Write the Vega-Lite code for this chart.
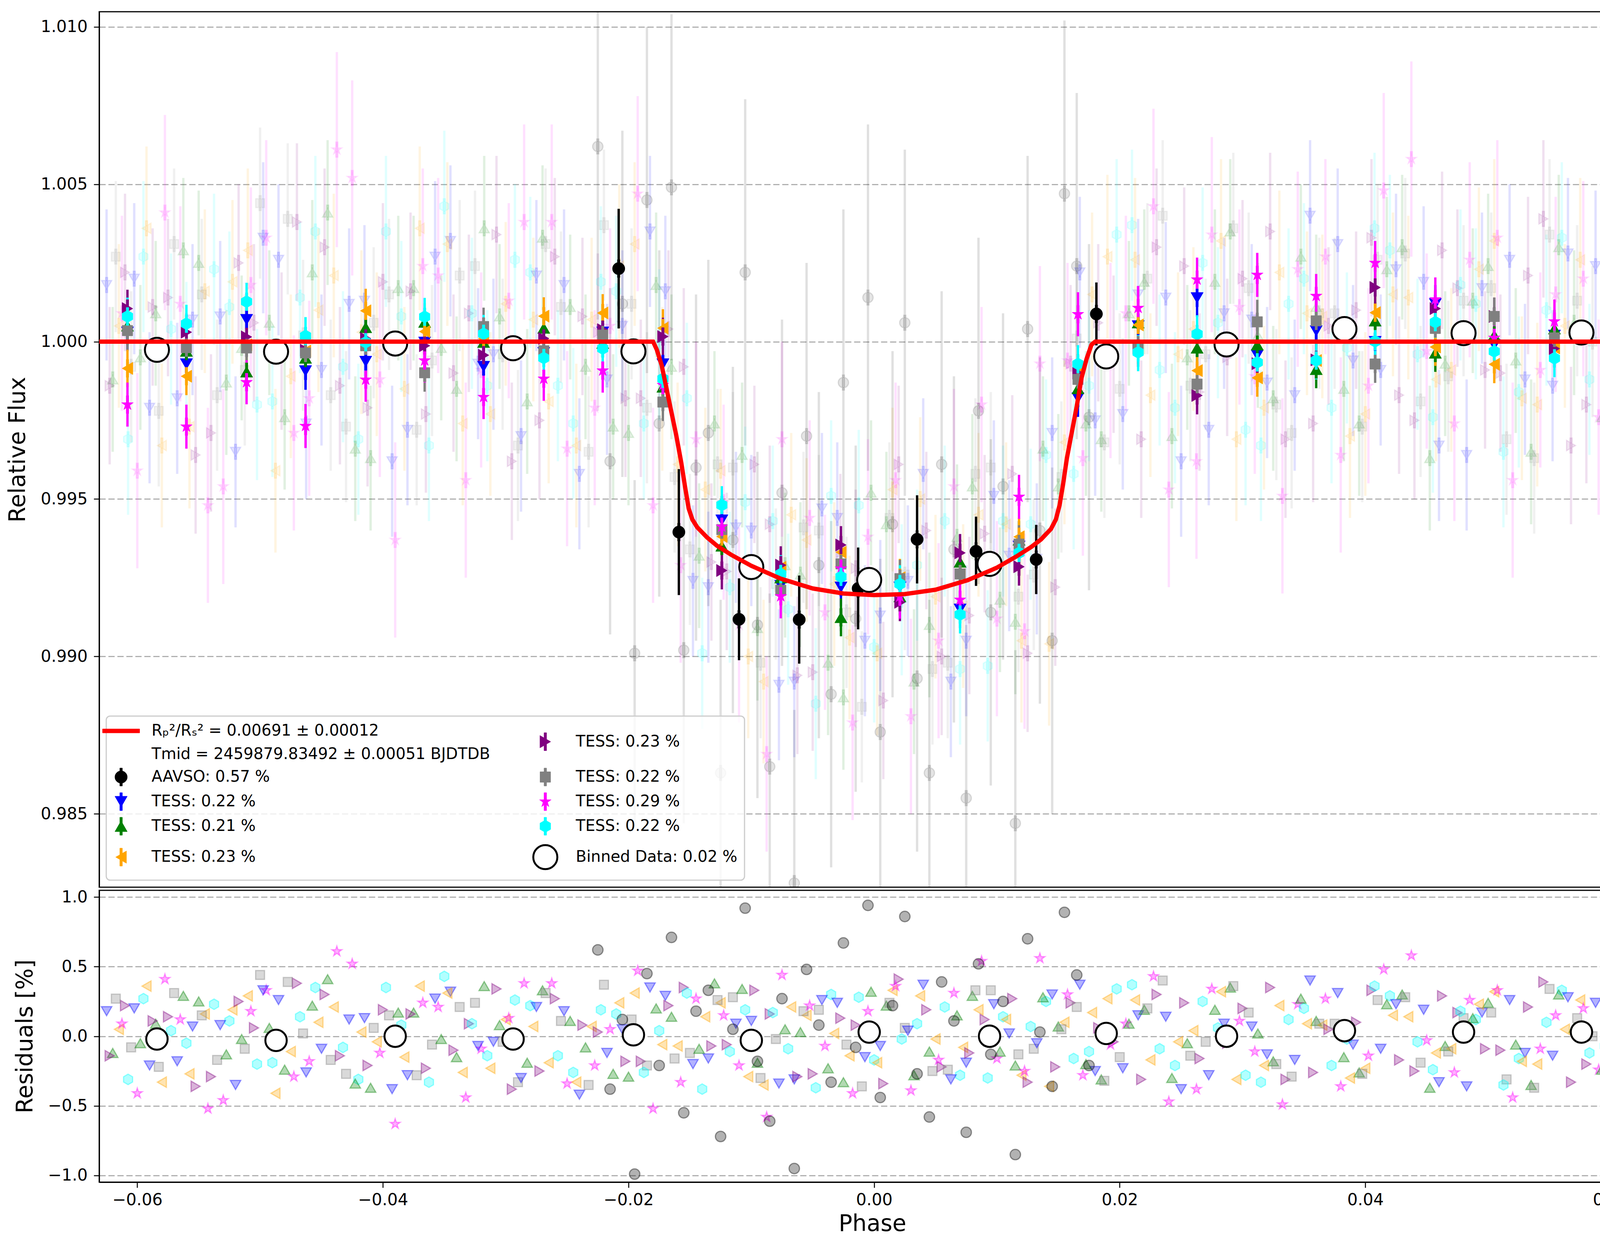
{
  "$schema": "https://vega.github.io/schema/vega-lite/v6.json",
  "background": "white",
  "padding": {"left": 16, "top": 28, "right": 31, "bottom": 38},
  "spacing": 0,
  "config": {
    "font": "DejaVu Sans",
    "view": {"stroke": "black", "strokeWidth": 3},
    "axis": {
      "domainColor": "black", "domainWidth": 3, "tickColor": "black", "tickWidth": 2.5, "tickSize": 14,
      "labelFont": "DejaVu Sans", "labelFontSize": 42, "labelColor": "black",
      "titleFont": "DejaVu Sans", "titleFontSize": 58, "titleFontWeight": "normal", "titleColor": "black",
      "gridColor": "#b0b0b0", "gridDash": [16, 7], "gridWidth": 3
    },
    "axisX": {"grid": false, "labelPadding": 11, "titlePadding": 12},
    "axisY": {"grid": true, "labelPadding": 16, "titlePadding": 28},
    "legend": {
      "orient": "bottom-left", "offset": 18, "columns": 2,
      "labelFont": "DejaVu Sans", "labelFontSize": 40, "labelColor": "black", "labelLimit": 3000,
      "symbolSize": 1000, "labelOffset": 58, "rowPadding": 13, "columnPadding": 100, "padding": 18,
      "fillColor": "rgba(255,255,255,0.8)", "strokeColor": "#cccccc", "strokeWidth": 3, "cornerRadius": 10
    }
  },
  "datasets": {
    "faint": [
      {"p":-0.0625,"f":1.0018,"e":0.0024,"r":0.18,"i":"t1"},
      {"p":-0.0620,"f":0.9988,"e":0.0023,"r":-0.12,"i":"t2"},
      {"p":-0.0615,"f":1.0005,"e":0.0026,"r":0.05,"i":"t3"},
      {"p":-0.0610,"f":1.0022,"e":0.0025,"r":0.22,"i":"t4"},
      {"p":-0.0605,"f":0.9992,"e":0.0024,"r":-0.08,"i":"t5"},
      {"p":-0.0600,"f":0.9959,"e":0.0031,"r":-0.41,"i":"t6"},
      {"p":-0.0595,"f":1.0027,"e":0.0024,"r":0.27,"i":"t7"},
      {"p":-0.0590,"f":0.9979,"e":0.0024,"r":-0.21,"i":"t1"},
      {"p":-0.0585,"f":1.0009,"e":0.0023,"r":0.09,"i":"t2"},
      {"p":-0.0580,"f":0.9967,"e":0.0026,"r":-0.33,"i":"t3"},
      {"p":-0.0575,"f":1.0014,"e":0.0025,"r":0.14,"i":"t4"},
      {"p":-0.0570,"f":1.0031,"e":0.0024,"r":0.31,"i":"t5"},
      {"p":-0.0565,"f":1.0012,"e":0.0031,"r":0.12,"i":"t6"},
      {"p":-0.0560,"f":0.9995,"e":0.0024,"r":-0.05,"i":"t7"},
      {"p":-0.0555,"f":1.0007,"e":0.0024,"r":0.07,"i":"t1"},
      {"p":-0.0550,"f":1.0025,"e":0.0023,"r":0.25,"i":"t2"},
      {"p":-0.0545,"f":1.0016,"e":0.0026,"r":0.16,"i":"t3"},
      {"p":-0.0540,"f":0.9971,"e":0.0025,"r":-0.29,"i":"t4"},
      {"p":-0.0535,"f":0.9983,"e":0.0024,"r":-0.17,"i":"t5"},
      {"p":-0.0530,"f":0.9954,"e":0.0031,"r":-0.46,"i":"t6"},
      {"p":-0.0525,"f":1.0011,"e":0.0024,"r":0.11,"i":"t7"},
      {"p":-0.0520,"f":0.9965,"e":0.0024,"r":-0.35,"i":"t1"},
      {"p":-0.0515,"f":0.9998,"e":0.0023,"r":-0.02,"i":"t2"},
      {"p":-0.0510,"f":1.0029,"e":0.0026,"r":0.29,"i":"t3"},
      {"p":-0.0505,"f":1.0006,"e":0.0025,"r":0.06,"i":"t4"},
      {"p":-0.0500,"f":1.0044,"e":0.0024,"r":0.44,"i":"t5"},
      {"p":-0.0495,"f":1.0033,"e":0.0031,"r":0.33,"i":"t6"},
      {"p":-0.0490,"f":0.9981,"e":0.0024,"r":-0.19,"i":"t7"},
      {"p":-0.0485,"f":1.0026,"e":0.0024,"r":0.26,"i":"t1"},
      {"p":-0.0480,"f":0.9976,"e":0.0023,"r":-0.24,"i":"t2"},
      {"p":-0.0475,"f":0.9989,"e":0.0026,"r":-0.11,"i":"t3"},
      {"p":-0.0470,"f":1.0038,"e":0.0025,"r":0.38,"i":"t4"},
      {"p":-0.0465,"f":1.0002,"e":0.0024,"r":0.02,"i":"t5"},
      {"p":-0.0460,"f":0.9982,"e":0.0031,"r":-0.18,"i":"t6"},
      {"p":-0.0455,"f":1.0035,"e":0.0024,"r":0.35,"i":"t7"},
      {"p":-0.0450,"f":0.9991,"e":0.0024,"r":-0.09,"i":"t1"},
      {"p":-0.0445,"f":1.0041,"e":0.0023,"r":0.41,"i":"t2"},
      {"p":-0.0440,"f":1.0021,"e":0.0026,"r":0.21,"i":"t3"},
      {"p":-0.0435,"f":0.9986,"e":0.0025,"r":-0.14,"i":"t4"},
      {"p":-0.0430,"f":0.9973,"e":0.0024,"r":-0.27,"i":"t5"},
      {"p":-0.0425,"f":1.0052,"e":0.0031,"r":0.52,"i":"t6"},
      {"p":-0.0420,"f":0.9969,"e":0.0024,"r":-0.31,"i":"t7"},
      {"p":-0.0415,"f":1.0013,"e":0.0024,"r":0.13,"i":"t1"},
      {"p":-0.0410,"f":0.9963,"e":0.0023,"r":-0.37,"i":"t2"},
      {"p":-0.0405,"f":0.9996,"e":0.0026,"r":-0.04,"i":"t3"},
      {"p":-0.0400,"f":1.0019,"e":0.0025,"r":0.19,"i":"t4"},
      {"p":-0.0395,"f":1.0015,"e":0.0024,"r":0.15,"i":"t5"},
      {"p":-0.0390,"f":0.9937,"e":0.0031,"r":-0.63,"i":"t6"},
      {"p":-0.0385,"f":1.0008,"e":0.0024,"r":0.08,"i":"t7"},
      {"p":-0.0380,"f":0.9972,"e":0.0024,"r":-0.28,"i":"t1"},
      {"p":-0.0375,"f":1.0017,"e":0.0023,"r":0.17,"i":"t2"},
      {"p":-0.0370,"f":1.0036,"e":0.0026,"r":0.36,"i":"t3"},
      {"p":-0.0365,"f":0.9977,"e":0.0025,"r":-0.23,"i":"t4"},
      {"p":-0.0360,"f":0.9994,"e":0.0024,"r":-0.06,"i":"t5"},
      {"p":-0.0355,"f":1.0021,"e":0.0031,"r":0.21,"i":"t6"},
      {"p":-0.0350,"f":1.0043,"e":0.0024,"r":0.43,"i":"t7"},
      {"p":-0.0345,"f":1.0032,"e":0.0024,"r":0.32,"i":"t1"},
      {"p":-0.0340,"f":0.9985,"e":0.0023,"r":-0.15,"i":"t2"},
      {"p":-0.0335,"f":0.9974,"e":0.0026,"r":-0.26,"i":"t3"},
      {"p":-0.0330,"f":1.0009,"e":0.0025,"r":0.09,"i":"t4"},
      {"p":-0.0325,"f":1.0024,"e":0.0024,"r":0.24,"i":"t5"},
      {"p":-0.0320,"f":0.9991,"e":0.0031,"r":-0.09,"i":"t6"},
      {"p":-0.0315,"f":0.9986,"e":0.0024,"r":-0.14,"i":"t7"},
      {"p":-0.0310,"f":0.9996,"e":0.0024,"r":-0.04,"i":"t1"},
      {"p":-0.0305,"f":1.0008,"e":0.0023,"r":0.08,"i":"t2"},
      {"p":-0.0300,"f":1.0012,"e":0.0026,"r":0.12,"i":"t3"},
      {"p":-0.0295,"f":0.9962,"e":0.0025,"r":-0.38,"i":"t4"},
      {"p":-0.0290,"f":0.9967,"e":0.0024,"r":-0.33,"i":"t5"},
      {"p":-0.0285,"f":1.0038,"e":0.0031,"r":0.38,"i":"t6"},
      {"p":-0.0280,"f":1.0022,"e":0.0024,"r":0.22,"i":"t7"},
      {"p":-0.0275,"f":1.0021,"e":0.0024,"r":0.21,"i":"t1"},
      {"p":-0.0270,"f":1.0033,"e":0.0023,"r":0.33,"i":"t2"},
      {"p":-0.0265,"f":0.9981,"e":0.0026,"r":-0.19,"i":"t3"},
      {"p":-0.0260,"f":1.0027,"e":0.0025,"r":0.27,"i":"t4"},
      {"p":-0.0255,"f":1.0011,"e":0.0024,"r":0.11,"i":"t5"},
      {"p":-0.0250,"f":0.9966,"e":0.0031,"r":-0.34,"i":"t6"},
      {"p":-0.0245,"f":0.9974,"e":0.0024,"r":-0.26,"i":"t7"},
      {"p":-0.0240,"f":0.9958,"e":0.0024,"r":-0.42,"i":"t1"},
      {"p":-0.0235,"f":0.9992,"e":0.0023,"r":-0.08,"i":"t2"},
      {"p":-0.0230,"f":1.0007,"e":0.0026,"r":0.07,"i":"t3"},
      {"p":-0.0225,"f":1.0003,"e":0.0025,"r":0.03,"i":"t4"},
      {"p":-0.0220,"f":1.0037,"e":0.0024,"r":0.37,"i":"t5"},
      {"p":-0.0215,"f":1.0005,"e":0.0031,"r":0.05,"i":"t6"},
      {"p":-0.0210,"f":1.0016,"e":0.0024,"r":0.16,"i":"t7"},
      {"p":-0.0205,"f":1.0005,"e":0.0024,"r":0.05,"i":"t1"},
      {"p":-0.0200,"f":0.9971,"e":0.0023,"r":-0.29,"i":"t2"},
      {"p":-0.0195,"f":1.0031,"e":0.0026,"r":0.31,"i":"t3"},
      {"p":-0.0190,"f":0.9982,"e":0.0025,"r":-0.18,"i":"t4"},
      {"p":-0.0185,"f":0.9979,"e":0.0024,"r":-0.21,"i":"t5"},
      {"p":-0.0180,"f":0.9948,"e":0.0031,"r":-0.52,"i":"t6"},
      {"p":-0.0175,"f":0.9999,"e":0.0024,"r":0.04,"i":"t7"},
      {"p":-0.0170,"f":1.0016,"e":0.0024,"r":0.29,"i":"t1"},
      {"p":-0.0165,"f":0.9992,"e":0.0023,"r":0.14,"i":"t2"},
      {"p":-0.0160,"f":0.9961,"e":0.0026,"r":-0.07,"i":"t3"},
      {"p":-0.0155,"f":0.9992,"e":0.0025,"r":0.35,"i":"t4"},
      {"p":-0.0150,"f":0.9934,"e":0.0024,"r":-0.12,"i":"t5"},
      {"p":-0.0145,"f":0.9969,"e":0.0031,"r":0.27,"i":"t6"},
      {"p":-0.0140,"f":0.9901,"e":0.0024,"r":-0.38,"i":"t7"},
      {"p":-0.0135,"f":0.9922,"e":0.0024,"r":-0.16,"i":"t1"},
      {"p":-0.0130,"f":0.9974,"e":0.0023,"r":0.38,"i":"t2"},
      {"p":-0.0125,"f":0.9959,"e":0.0026,"r":0.24,"i":"t3"},
      {"p":-0.0120,"f":0.9927,"e":0.0025,"r":-0.06,"i":"t4"},
      {"p":-0.0115,"f":0.9960,"e":0.0024,"r":0.28,"i":"t5"},
      {"p":-0.0110,"f":0.9910,"e":0.0031,"r":-0.21,"i":"t6"},
      {"p":-0.0105,"f":0.9949,"e":0.0024,"r":0.19,"i":"t7"},
      {"p":-0.0100,"f":0.9940,"e":0.0024,"r":0.11,"i":"t1"},
      {"p":-0.0095,"f":0.9909,"e":0.0023,"r":-0.19,"i":"t2"},
      {"p":-0.0090,"f":0.9892,"e":0.0026,"r":-0.35,"i":"t3"},
      {"p":-0.0085,"f":0.9942,"e":0.0025,"r":0.16,"i":"t4"},
      {"p":-0.0080,"f":0.9923,"e":0.0024,"r":-0.02,"i":"t5"},
      {"p":-0.0075,"f":0.9969,"e":0.0031,"r":0.44,"i":"t6"},
      {"p":-0.0070,"f":0.9915,"e":0.0024,"r":-0.09,"i":"t7"},
      {"p":-0.0065,"f":0.9892,"e":0.0024,"r":-0.31,"i":"t1"},
      {"p":-0.0060,"f":0.9926,"e":0.0023,"r":0.03,"i":"t2"},
      {"p":-0.0055,"f":0.9937,"e":0.0026,"r":0.15,"i":"t3"},
      {"p":-0.0050,"f":0.9895,"e":0.0025,"r":-0.27,"i":"t4"},
      {"p":-0.0045,"f":0.9940,"e":0.0024,"r":0.19,"i":"t5"},
      {"p":-0.0040,"f":0.9914,"e":0.0031,"r":-0.07,"i":"t6"},
      {"p":-0.0035,"f":0.9951,"e":0.0024,"r":0.30,"i":"t7"},
      {"p":-0.0030,"f":0.9944,"e":0.0024,"r":0.24,"i":"t1"},
      {"p":-0.0025,"f":0.9887,"e":0.0023,"r":-0.33,"i":"t2"},
      {"p":-0.0020,"f":0.9906,"e":0.0026,"r":-0.14,"i":"t3"},
      {"p":-0.0015,"f":0.9928,"e":0.0025,"r":0.08,"i":"t4"},
      {"p":-0.0010,"f":0.9884,"e":0.0024,"r":-0.36,"i":"t5"},
      {"p":-0.0005,"f":0.9938,"e":0.0031,"r":0.18,"i":"t6"},
      {"p":0.0000,"f":0.9903,"e":0.0024,"r":-0.17,"i":"t7"},
      {"p":0.0005,"f":0.9913,"e":0.0024,"r":-0.07,"i":"t1"},
      {"p":0.0010,"f":0.9942,"e":0.0023,"r":0.22,"i":"t2"},
      {"p":0.0015,"f":0.9953,"e":0.0026,"r":0.33,"i":"t3"},
      {"p":0.0020,"f":0.9961,"e":0.0025,"r":0.41,"i":"t4"},
      {"p":0.0025,"f":0.9926,"e":0.0024,"r":0.06,"i":"t5"},
      {"p":0.0030,"f":0.9881,"e":0.0031,"r":-0.39,"i":"t6"},
      {"p":0.0035,"f":0.9929,"e":0.0024,"r":0.09,"i":"t7"},
      {"p":0.0040,"f":0.9958,"e":0.0024,"r":0.37,"i":"t1"},
      {"p":0.0045,"f":0.9910,"e":0.0023,"r":-0.11,"i":"t2"},
      {"p":0.0050,"f":0.9919,"e":0.0026,"r":-0.02,"i":"t3"},
      {"p":0.0055,"f":0.9900,"e":0.0025,"r":-0.22,"i":"t4"},
      {"p":0.0060,"f":0.9898,"e":0.0024,"r":-0.24,"i":"t5"},
      {"p":0.0065,"f":0.9954,"e":0.0031,"r":0.31,"i":"t6"},
      {"p":0.0070,"f":0.9896,"e":0.0024,"r":-0.28,"i":"t7"},
      {"p":0.0075,"f":0.9905,"e":0.0024,"r":-0.19,"i":"t1"},
      {"p":0.0080,"f":0.9954,"e":0.0023,"r":0.29,"i":"t2"},
      {"p":0.0085,"f":0.9945,"e":0.0026,"r":0.19,"i":"t3"},
      {"p":0.0090,"f":0.9939,"e":0.0025,"r":0.12,"i":"t4"},
      {"p":0.0095,"f":0.9960,"e":0.0024,"r":0.33,"i":"t5"},
      {"p":0.0100,"f":0.9912,"e":0.0031,"r":-0.16,"i":"t6"},
      {"p":0.0105,"f":0.9943,"e":0.0024,"r":0.14,"i":"t7"},
      {"p":0.0110,"f":0.9932,"e":0.0024,"r":0.02,"i":"t1"},
      {"p":0.0115,"f":0.9911,"e":0.0023,"r":-0.21,"i":"t2"},
      {"p":0.0120,"f":0.9905,"e":0.0026,"r":-0.28,"i":"t3"},
      {"p":0.0125,"f":0.9901,"e":0.0025,"r":-0.33,"i":"t4"},
      {"p":0.0130,"f":0.9926,"e":0.0024,"r":-0.09,"i":"t5"},
      {"p":0.0135,"f":0.9993,"e":0.0031,"r":0.56,"i":"t6"},
      {"p":0.0140,"f":0.9964,"e":0.0024,"r":0.25,"i":"t7"},
      {"p":0.0145,"f":0.9971,"e":0.0024,"r":0.30,"i":"t1"},
      {"p":0.0150,"f":0.9954,"e":0.0023,"r":0.07,"i":"t2"},
      {"p":0.0155,"f":0.9968,"e":0.0026,"r":0.10,"i":"t3"},
      {"p":0.0160,"f":0.9993,"e":0.0025,"r":0.24,"i":"t4"},
      {"p":0.0165,"f":1.0001,"e":0.0024,"r":0.21,"i":"t5"},
      {"p":0.0170,"f":0.9963,"e":0.0031,"r":-0.28,"i":"t6"},
      {"p":0.0175,"f":0.9986,"e":0.0024,"r":-0.11,"i":"t7"},
      {"p":0.0180,"f":0.9975,"e":0.0024,"r":-0.25,"i":"t1"},
      {"p":0.0185,"f":0.9969,"e":0.0023,"r":-0.31,"i":"t2"},
      {"p":0.0190,"f":1.0027,"e":0.0026,"r":0.27,"i":"t3"},
      {"p":0.0195,"f":0.9996,"e":0.0025,"r":-0.04,"i":"t4"},
      {"p":0.0200,"f":0.9985,"e":0.0024,"r":-0.15,"i":"t5"},
      {"p":0.0205,"f":1.0009,"e":0.0031,"r":0.09,"i":"t6"},
      {"p":0.0210,"f":1.0037,"e":0.0024,"r":0.37,"i":"t7"},
      {"p":0.0215,"f":1.0015,"e":0.0024,"r":0.15,"i":"t1"},
      {"p":0.0220,"f":1.0019,"e":0.0023,"r":0.19,"i":"t2"},
      {"p":0.0225,"f":0.9983,"e":0.0026,"r":-0.17,"i":"t3"},
      {"p":0.0230,"f":1.0030,"e":0.0025,"r":0.30,"i":"t4"},
      {"p":0.0235,"f":1.0040,"e":0.0024,"r":0.40,"i":"t5"},
      {"p":0.0240,"f":0.9953,"e":0.0031,"r":-0.47,"i":"t6"},
      {"p":0.0245,"f":0.9979,"e":0.0024,"r":-0.21,"i":"t7"},
      {"p":0.0250,"f":0.9962,"e":0.0024,"r":-0.38,"i":"t1"},
      {"p":0.0255,"f":0.9995,"e":0.0023,"r":-0.05,"i":"t2"},
      {"p":0.0260,"f":1.0004,"e":0.0026,"r":0.04,"i":"t3"},
      {"p":0.0265,"f":0.9984,"e":0.0025,"r":-0.16,"i":"t4"},
      {"p":0.0270,"f":0.9996,"e":0.0024,"r":-0.04,"i":"t5"},
      {"p":0.0275,"f":1.0034,"e":0.0031,"r":0.34,"i":"t6"},
      {"p":0.0280,"f":1.0006,"e":0.0024,"r":0.06,"i":"t7"},
      {"p":0.0285,"f":1.0009,"e":0.0024,"r":0.09,"i":"t1"},
      {"p":0.0290,"f":1.0035,"e":0.0023,"r":0.35,"i":"t2"},
      {"p":0.0295,"f":0.9969,"e":0.0026,"r":-0.31,"i":"t3"},
      {"p":0.0300,"f":1.0020,"e":0.0025,"r":0.20,"i":"t4"},
      {"p":0.0305,"f":1.0017,"e":0.0024,"r":0.17,"i":"t5"},
      {"p":0.0310,"f":0.9989,"e":0.0031,"r":-0.11,"i":"t6"},
      {"p":0.0315,"f":0.9967,"e":0.0024,"r":-0.33,"i":"t7"},
      {"p":0.0320,"f":0.9987,"e":0.0024,"r":-0.13,"i":"t1"},
      {"p":0.0325,"f":0.9982,"e":0.0023,"r":-0.18,"i":"t2"},
      {"p":0.0330,"f":1.0022,"e":0.0026,"r":0.22,"i":"t3"},
      {"p":0.0335,"f":0.9969,"e":0.0025,"r":-0.31,"i":"t4"},
      {"p":0.0340,"f":0.9971,"e":0.0024,"r":-0.29,"i":"t5"},
      {"p":0.0345,"f":1.0023,"e":0.0031,"r":0.23,"i":"t6"},
      {"p":0.0350,"f":1.0020,"e":0.0024,"r":0.20,"i":"t7"},
      {"p":0.0355,"f":1.0040,"e":0.0024,"r":0.40,"i":"t1"},
      {"p":0.0360,"f":1.0011,"e":0.0023,"r":0.11,"i":"t2"},
      {"p":0.0365,"f":1.0008,"e":0.0026,"r":0.08,"i":"t3"},
      {"p":0.0370,"f":1.0005,"e":0.0025,"r":0.05,"i":"t4"},
      {"p":0.0375,"f":1.0009,"e":0.0024,"r":0.09,"i":"t5"},
      {"p":0.0380,"f":0.9964,"e":0.0031,"r":-0.36,"i":"t6"},
      {"p":0.0385,"f":0.9998,"e":0.0024,"r":-0.02,"i":"t7"},
      {"p":0.0390,"f":0.9994,"e":0.0024,"r":-0.06,"i":"t1"},
      {"p":0.0395,"f":0.9974,"e":0.0023,"r":-0.26,"i":"t2"},
      {"p":0.0400,"f":0.9977,"e":0.0026,"r":-0.23,"i":"t3"},
      {"p":0.0405,"f":1.0033,"e":0.0025,"r":0.33,"i":"t4"},
      {"p":0.0410,"f":1.0026,"e":0.0024,"r":0.26,"i":"t5"},
      {"p":0.0415,"f":1.0048,"e":0.0031,"r":0.48,"i":"t6"},
      {"p":0.0420,"f":1.0029,"e":0.0024,"r":0.29,"i":"t7"},
      {"p":0.0425,"f":1.0023,"e":0.0024,"r":0.23,"i":"t1"},
      {"p":0.0430,"f":1.0030,"e":0.0023,"r":0.30,"i":"t2"},
      {"p":0.0435,"f":1.0014,"e":0.0026,"r":0.14,"i":"t3"},
      {"p":0.0440,"f":0.9975,"e":0.0025,"r":-0.25,"i":"t4"},
      {"p":0.0445,"f":0.9981,"e":0.0024,"r":-0.19,"i":"t5"},
      {"p":0.0450,"f":0.9997,"e":0.0031,"r":-0.03,"i":"t6"},
      {"p":0.0455,"f":0.9976,"e":0.0024,"r":-0.24,"i":"t7"},
      {"p":0.0460,"f":0.9967,"e":0.0024,"r":-0.33,"i":"t1"},
      {"p":0.0465,"f":0.9993,"e":0.0023,"r":-0.07,"i":"t2"},
      {"p":0.0470,"f":0.9991,"e":0.0026,"r":-0.09,"i":"t3"},
      {"p":0.0475,"f":1.0017,"e":0.0025,"r":0.17,"i":"t4"},
      {"p":0.0480,"f":1.0013,"e":0.0024,"r":0.13,"i":"t5"},
      {"p":0.0485,"f":1.0026,"e":0.0031,"r":0.26,"i":"t6"},
      {"p":0.0490,"f":1.0012,"e":0.0024,"r":0.12,"i":"t7"},
      {"p":0.0495,"f":1.0017,"e":0.0024,"r":0.17,"i":"t1"},
      {"p":0.0500,"f":1.0024,"e":0.0023,"r":0.24,"i":"t2"},
      {"p":0.0505,"f":1.0032,"e":0.0026,"r":0.32,"i":"t3"},
      {"p":0.0510,"f":0.9990,"e":0.0025,"r":-0.10,"i":"t4"},
      {"p":0.0515,"f":0.9969,"e":0.0024,"r":-0.31,"i":"t5"},
      {"p":0.0520,"f":0.9956,"e":0.0031,"r":-0.44,"i":"t6"},
      {"p":0.0525,"f":0.9984,"e":0.0024,"r":-0.16,"i":"t7"},
      {"p":0.0530,"f":0.9988,"e":0.0024,"r":-0.12,"i":"t1"},
      {"p":0.0535,"f":0.9965,"e":0.0023,"r":-0.35,"i":"t2"},
      {"p":0.0540,"f":0.9980,"e":0.0026,"r":-0.20,"i":"t3"},
      {"p":0.0545,"f":1.0039,"e":0.0025,"r":0.39,"i":"t4"},
      {"p":0.0550,"f":1.0034,"e":0.0024,"r":0.34,"i":"t5"},
      {"p":0.0555,"f":1.0015,"e":0.0031,"r":0.15,"i":"t6"},
      {"p":0.0560,"f":1.0033,"e":0.0024,"r":0.33,"i":"t7"},
      {"p":0.0565,"f":1.0028,"e":0.0024,"r":0.28,"i":"t1"},
      {"p":0.0570,"f":1.0006,"e":0.0023,"r":0.06,"i":"t2"},
      {"p":0.0575,"f":1.0026,"e":0.0026,"r":0.26,"i":"t3"},
      {"p":0.0580,"f":0.9980,"e":0.0025,"r":-0.20,"i":"t4"},
      {"p":0.0585,"f":1.0000,"e":0.0024,"r":0.00,"i":"t5"},
      {"p":0.0590,"f":0.9976,"e":0.0031,"r":-0.24,"i":"t6"},
      {"p":0.0595,"f":0.9993,"e":0.0024,"r":-0.07,"i":"t7"},
      {"p":0.0600,"f":0.9977,"e":0.0024,"r":-0.23,"i":"t1"},
      {"p":0.0605,"f":1.0016,"e":0.0023,"r":0.16,"i":"t2"},
      {"p":0.0610,"f":0.9992,"e":0.0026,"r":-0.08,"i":"t3"},
      {"p":0.0615,"f":1.0011,"e":0.0025,"r":0.11,"i":"t4"},
      {"p":0.0620,"f":0.9978,"e":0.0024,"r":-0.22,"i":"t5"},
      {"p":0.0625,"f":1.0037,"e":0.0031,"r":0.37,"i":"t6"},
      {"p":-0.06225,"f":0.9986,"e":0.0025,"r":-0.14,"i":"t4"},
      {"p":-0.06175,"f":1.0027,"e":0.0024,"r":0.27,"i":"t5"},
      {"p":-0.06125,"f":1.0009,"e":0.0031,"r":0.09,"i":"t6"},
      {"p":-0.06075,"f":0.9969,"e":0.0024,"r":-0.31,"i":"t7"},
      {"p":-0.06025,"f":1.0020,"e":0.0024,"r":0.20,"i":"t1"},
      {"p":-0.05975,"f":0.9995,"e":0.0023,"r":-0.05,"i":"t2"},
      {"p":-0.05925,"f":1.0036,"e":0.0026,"r":0.36,"i":"t3"},
      {"p":-0.05875,"f":1.0011,"e":0.0025,"r":0.11,"i":"t4"},
      {"p":-0.05825,"f":0.9978,"e":0.0024,"r":-0.22,"i":"t5"},
      {"p":-0.05775,"f":1.0041,"e":0.0031,"r":0.41,"i":"t6"},
      {"p":-0.05725,"f":1.0004,"e":0.0024,"r":0.04,"i":"t7"},
      {"p":-0.05675,"f":0.9982,"e":0.0024,"r":-0.18,"i":"t1"},
      {"p":-0.05625,"f":1.0029,"e":0.0023,"r":0.29,"i":"t2"},
      {"p":-0.05575,"f":0.9973,"e":0.0026,"r":-0.27,"i":"t3"},
      {"p":-0.05525,"f":0.9964,"e":0.0025,"r":-0.36,"i":"t4"},
      {"p":-0.05475,"f":1.0015,"e":0.0024,"r":0.15,"i":"t5"},
      {"p":-0.05425,"f":0.9948,"e":0.0031,"r":-0.52,"i":"t6"},
      {"p":-0.05375,"f":1.0023,"e":0.0024,"r":0.23,"i":"t7"},
      {"p":-0.05325,"f":1.0008,"e":0.0024,"r":0.08,"i":"t1"},
      {"p":-0.05275,"f":0.9987,"e":0.0023,"r":-0.13,"i":"t2"},
      {"p":-0.05225,"f":1.0019,"e":0.0026,"r":0.19,"i":"t3"},
      {"p":-0.05175,"f":1.0025,"e":0.0025,"r":0.25,"i":"t4"},
      {"p":-0.05125,"f":0.9991,"e":0.0024,"r":-0.09,"i":"t5"},
      {"p":-0.05075,"f":1.0018,"e":0.0031,"r":0.18,"i":"t6"},
      {"p":-0.05025,"f":0.9980,"e":0.0024,"r":-0.20,"i":"t7"},
      {"p":-0.04975,"f":1.0033,"e":0.0024,"r":0.33,"i":"t1"},
      {"p":-0.04925,"f":1.0006,"e":0.0023,"r":0.06,"i":"t2"},
      {"p":-0.04875,"f":0.9959,"e":0.0026,"r":-0.41,"i":"t3"},
      {"p":-0.04825,"f":0.9997,"e":0.0025,"r":-0.03,"i":"t4"},
      {"p":-0.04775,"f":1.0039,"e":0.0024,"r":0.39,"i":"t5"},
      {"p":-0.04725,"f":0.9971,"e":0.0031,"r":-0.29,"i":"t6"},
      {"p":-0.04675,"f":1.0014,"e":0.0024,"r":0.14,"i":"t7"},
      {"p":-0.04625,"f":0.9974,"e":0.0024,"r":-0.26,"i":"t1"},
      {"p":-0.04575,"f":1.0022,"e":0.0023,"r":0.22,"i":"t2"},
      {"p":-0.04525,"f":1.0010,"e":0.0026,"r":0.10,"i":"t3"},
      {"p":-0.04475,"f":1.0030,"e":0.0025,"r":0.30,"i":"t4"},
      {"p":-0.04425,"f":0.9983,"e":0.0024,"r":-0.17,"i":"t5"},
      {"p":-0.04375,"f":1.0061,"e":0.0031,"r":0.61,"i":"t6"},
      {"p":-0.04325,"f":0.9992,"e":0.0024,"r":-0.08,"i":"t7"},
      {"p":-0.04275,"f":1.0012,"e":0.0024,"r":0.12,"i":"t1"},
      {"p":-0.04225,"f":0.9966,"e":0.0023,"r":-0.34,"i":"t2"},
      {"p":-0.04175,"f":1.0003,"e":0.0026,"r":0.03,"i":"t3"},
      {"p":-0.04125,"f":0.9979,"e":0.0025,"r":-0.21,"i":"t4"},
      {"p":-0.04075,"f":1.0006,"e":0.0024,"r":0.06,"i":"t5"},
      {"p":-0.04025,"f":0.9988,"e":0.0031,"r":-0.12,"i":"t6"},
      {"p":-0.03975,"f":1.0035,"e":0.0024,"r":0.35,"i":"t7"},
      {"p":-0.03925,"f":0.9962,"e":0.0024,"r":-0.38,"i":"t1"},
      {"p":-0.03875,"f":1.0017,"e":0.0023,"r":0.17,"i":"t2"},
      {"p":-0.03825,"f":0.9985,"e":0.0026,"r":-0.15,"i":"t3"},
      {"p":-0.03775,"f":1.0016,"e":0.0025,"r":0.16,"i":"t4"},
      {"p":-0.03725,"f":0.9972,"e":0.0024,"r":-0.28,"i":"t5"},
      {"p":-0.03675,"f":1.0024,"e":0.0031,"r":0.24,"i":"t6"},
      {"p":-0.03625,"f":0.9967,"e":0.0024,"r":-0.33,"i":"t7"},
      {"p":-0.03575,"f":1.0027,"e":0.0024,"r":0.27,"i":"t1"},
      {"p":-0.03525,"f":0.9998,"e":0.0023,"r":-0.02,"i":"t2"},
      {"p":-0.03475,"f":1.0031,"e":0.0026,"r":0.31,"i":"t3"},
      {"p":-0.03425,"f":0.9990,"e":0.0025,"r":-0.10,"i":"t4"},
      {"p":-0.03375,"f":1.0021,"e":0.0024,"r":0.21,"i":"t5"},
      {"p":-0.03325,"f":0.9956,"e":0.0031,"r":-0.44,"i":"t6"},
      {"p":-0.03275,"f":1.0009,"e":0.0024,"r":0.09,"i":"t7"},
      {"p":-0.03225,"f":0.9993,"e":0.0024,"r":-0.07,"i":"t1"},
      {"p":-0.03175,"f":1.0036,"e":0.0023,"r":0.36,"i":"t2"},
      {"p":-0.03125,"f":0.9977,"e":0.0026,"r":-0.23,"i":"t3"},
      {"p":-0.03075,"f":1.0034,"e":0.0025,"r":0.34,"i":"t4"},
      {"p":-0.03025,"f":0.9996,"e":0.0024,"r":-0.04,"i":"t5"},
      {"p":-0.02975,"f":1.0013,"e":0.0031,"r":0.13,"i":"t6"},
      {"p":-0.02925,"f":1.0026,"e":0.0024,"r":0.26,"i":"t7"},
      {"p":-0.02875,"f":0.9970,"e":0.0024,"r":-0.30,"i":"t1"},
      {"p":-0.02825,"f":0.9981,"e":0.0023,"r":-0.19,"i":"t2"},
      {"p":-0.02775,"f":1.0007,"e":0.0026,"r":0.07,"i":"t3"},
      {"p":-0.02725,"f":0.9975,"e":0.0025,"r":-0.25,"i":"t4"},
      {"p":-0.02675,"f":1.0031,"e":0.0024,"r":0.31,"i":"t5"},
      {"p":-0.02625,"f":1.0038,"e":0.0031,"r":0.38,"i":"t6"},
      {"p":-0.02575,"f":0.9986,"e":0.0024,"r":-0.14,"i":"t7"},
      {"p":-0.02525,"f":1.0018,"e":0.0024,"r":0.18,"i":"t1"},
      {"p":-0.02475,"f":1.0011,"e":0.0023,"r":0.11,"i":"t2"},
      {"p":-0.02425,"f":0.9967,"e":0.0026,"r":-0.33,"i":"t3"},
      {"p":-0.02375,"f":1.0008,"e":0.0025,"r":0.08,"i":"t4"},
      {"p":-0.02325,"f":0.9965,"e":0.0024,"r":-0.35,"i":"t5"},
      {"p":-0.02275,"f":0.9979,"e":0.0031,"r":-0.21,"i":"t6"},
      {"p":-0.02225,"f":1.0019,"e":0.0024,"r":0.19,"i":"t7"},
      {"p":-0.02175,"f":0.9988,"e":0.0024,"r":-0.12,"i":"t1"},
      {"p":-0.02125,"f":0.9973,"e":0.0023,"r":-0.27,"i":"t2"},
      {"p":-0.02075,"f":1.0024,"e":0.0026,"r":0.24,"i":"t3"},
      {"p":-0.02025,"f":0.9982,"e":0.0025,"r":-0.18,"i":"t4"},
      {"p":-0.01975,"f":1.0012,"e":0.0024,"r":0.12,"i":"t5"},
      {"p":-0.01925,"f":1.0047,"e":0.0031,"r":0.47,"i":"t6"},
      {"p":-0.01875,"f":0.9974,"e":0.0024,"r":-0.26,"i":"t7"},
      {"p":-0.01825,"f":1.0035,"e":0.0024,"r":0.35,"i":"t1"},
      {"p":-0.01775,"f":1.0018,"e":0.0023,"r":0.20,"i":"t2"},
      {"p":-0.01725,"f":0.9985,"e":0.0026,"r":-0.06,"i":"t3"},
      {"p":-0.01675,"f":1.0004,"e":0.0025,"r":0.22,"i":"t4"},
      {"p":-0.01625,"f":0.9957,"e":0.0024,"r":-0.16,"i":"t5"},
      {"p":-0.01575,"f":0.9929,"e":0.0031,"r":-0.33,"i":"t6"},
      {"p":-0.01525,"f":0.9982,"e":0.0024,"r":0.31,"i":"t7"},
      {"p":-0.01475,"f":0.9924,"e":0.0024,"r":-0.20,"i":"t1"},
      {"p":-0.01425,"f":0.9932,"e":0.0023,"r":-0.09,"i":"t2"},
      {"p":-0.01375,"f":0.9953,"e":0.0026,"r":0.14,"i":"t3"},
      {"p":-0.01325,"f":0.9930,"e":0.0025,"r":-0.07,"i":"t4"},
      {"p":-0.01275,"f":0.9961,"e":0.0024,"r":0.26,"i":"t5"},
      {"p":-0.01225,"f":0.9949,"e":0.0031,"r":0.15,"i":"t6"},
      {"p":-0.01175,"f":0.9922,"e":0.0024,"r":-0.11,"i":"t7"},
      {"p":-0.01125,"f":0.9941,"e":0.0024,"r":0.09,"i":"t1"},
      {"p":-0.01075,"f":0.9964,"e":0.0023,"r":0.34,"i":"t2"},
      {"p":-0.01025,"f":0.9900,"e":0.0026,"r":-0.29,"i":"t3"},
      {"p":-0.00975,"f":0.9961,"e":0.0025,"r":0.33,"i":"t4"},
      {"p":-0.00925,"f":0.9898,"e":0.0024,"r":-0.30,"i":"t5"},
      {"p":-0.00875,"f":0.9869,"e":0.0031,"r":-0.58,"i":"t6"},
      {"p":-0.00825,"f":0.9943,"e":0.0024,"r":0.17,"i":"t7"},
      {"p":-0.00775,"f":0.9891,"e":0.0024,"r":-0.34,"i":"t1"},
      {"p":-0.00725,"f":0.9929,"e":0.0023,"r":0.05,"i":"t2"},
      {"p":-0.00675,"f":0.9945,"e":0.0026,"r":0.21,"i":"t3"},
      {"p":-0.00625,"f":0.9894,"e":0.0025,"r":-0.29,"i":"t4"},
      {"p":-0.00575,"f":0.9941,"e":0.0024,"r":0.18,"i":"t5"},
      {"p":-0.00525,"f":0.9944,"e":0.0031,"r":0.22,"i":"t6"},
      {"p":-0.00475,"f":0.9885,"e":0.0024,"r":-0.37,"i":"t7"},
      {"p":-0.00425,"f":0.9947,"e":0.0024,"r":0.26,"i":"t1"},
      {"p":-0.00375,"f":0.9898,"e":0.0023,"r":-0.23,"i":"t2"},
      {"p":-0.00325,"f":0.9923,"e":0.0026,"r":0.02,"i":"t3"},
      {"p":-0.00275,"f":0.9933,"e":0.0025,"r":0.13,"i":"t4"},
      {"p":-0.00225,"f":0.9914,"e":0.0024,"r":-0.06,"i":"t5"},
      {"p":-0.00175,"f":0.9879,"e":0.0031,"r":-0.41,"i":"t6"},
      {"p":-0.00125,"f":0.9948,"e":0.0024,"r":0.28,"i":"t7"},
      {"p":-0.00075,"f":0.9905,"e":0.0024,"r":-0.15,"i":"t1"},
      {"p":-0.00025,"f":0.9952,"e":0.0023,"r":0.32,"i":"t2"},
      {"p":0.00025,"f":0.9901,"e":0.0026,"r":-0.19,"i":"t3"},
      {"p":0.00075,"f":0.9886,"e":0.0025,"r":-0.34,"i":"t4"},
      {"p":0.00125,"f":0.9944,"e":0.0024,"r":0.24,"i":"t5"},
      {"p":0.00175,"f":0.9956,"e":0.0031,"r":0.36,"i":"t6"},
      {"p":0.00225,"f":0.9918,"e":0.0024,"r":-0.02,"i":"t7"},
      {"p":0.00275,"f":0.9924,"e":0.0024,"r":0.04,"i":"t1"},
      {"p":0.00325,"f":0.9892,"e":0.0023,"r":-0.28,"i":"t2"},
      {"p":0.00375,"f":0.9950,"e":0.0026,"r":0.29,"i":"t3"},
      {"p":0.00425,"f":0.9940,"e":0.0025,"r":0.19,"i":"t4"},
      {"p":0.00475,"f":0.9896,"e":0.0024,"r":-0.25,"i":"t5"},
      {"p":0.00525,"f":0.9905,"e":0.0031,"r":-0.17,"i":"t6"},
      {"p":0.00575,"f":0.9943,"e":0.0024,"r":0.21,"i":"t7"},
      {"p":0.00625,"f":0.9892,"e":0.0024,"r":-0.31,"i":"t1"},
      {"p":0.00675,"f":0.9938,"e":0.0023,"r":0.15,"i":"t2"},
      {"p":0.00725,"f":0.9916,"e":0.0026,"r":-0.08,"i":"t3"},
      {"p":0.00775,"f":0.9913,"e":0.0025,"r":-0.12,"i":"t4"},
      {"p":0.00825,"f":0.9958,"e":0.0024,"r":0.33,"i":"t5"},
      {"p":0.00875,"f":0.9980,"e":0.0031,"r":0.54,"i":"t6"},
      {"p":0.00925,"f":0.9897,"e":0.0024,"r":-0.30,"i":"t7"},
      {"p":0.00975,"f":0.9951,"e":0.0024,"r":0.23,"i":"t1"},
      {"p":0.01025,"f":0.9918,"e":0.0023,"r":-0.11,"i":"t2"},
      {"p":0.01075,"f":0.9942,"e":0.0026,"r":0.12,"i":"t3"},
      {"p":0.01125,"f":0.9958,"e":0.0025,"r":0.27,"i":"t4"},
      {"p":0.01175,"f":0.9919,"e":0.0024,"r":-0.13,"i":"t5"},
      {"p":0.01225,"f":0.9908,"e":0.0031,"r":-0.25,"i":"t6"},
      {"p":0.01275,"f":0.9942,"e":0.0024,"r":0.07,"i":"t7"},
      {"p":0.01325,"f":0.9931,"e":0.0024,"r":-0.05,"i":"t1"},
      {"p":0.01375,"f":0.9966,"e":0.0023,"r":0.28,"i":"t2"},
      {"p":0.01425,"f":0.9904,"e":0.0026,"r":-0.36,"i":"t3"},
      {"p":0.01475,"f":0.9922,"e":0.0025,"r":-0.22,"i":"t4"},
      {"p":0.01525,"f":0.9957,"e":0.0024,"r":0.05,"i":"t5"},
      {"p":0.01575,"f":0.9994,"e":0.0031,"r":0.30,"i":"t6"},
      {"p":0.01625,"f":0.9958,"e":0.0024,"r":-0.16,"i":"t7"},
      {"p":0.01675,"f":1.0022,"e":0.0024,"r":0.37,"i":"t1"},
      {"p":0.01725,"f":0.9974,"e":0.0023,"r":-0.20,"i":"t2"},
      {"p":0.01775,"f":1.0015,"e":0.0026,"r":0.17,"i":"t3"},
      {"p":0.01825,"f":1.0006,"e":0.0025,"r":0.06,"i":"t4"},
      {"p":0.01875,"f":0.9968,"e":0.0024,"r":-0.32,"i":"t5"},
      {"p":0.01925,"f":0.9994,"e":0.0031,"r":-0.06,"i":"t6"},
      {"p":0.01975,"f":1.0034,"e":0.0024,"r":0.34,"i":"t7"},
      {"p":0.02025,"f":0.9977,"e":0.0024,"r":-0.23,"i":"t1"},
      {"p":0.02075,"f":1.0009,"e":0.0023,"r":0.09,"i":"t2"},
      {"p":0.02125,"f":1.0026,"e":0.0026,"r":0.26,"i":"t3"},
      {"p":0.02175,"f":0.9969,"e":0.0025,"r":-0.31,"i":"t4"},
      {"p":0.02225,"f":1.0020,"e":0.0024,"r":0.20,"i":"t5"},
      {"p":0.02275,"f":1.0043,"e":0.0031,"r":0.43,"i":"t6"},
      {"p":0.02325,"f":0.9991,"e":0.0024,"r":-0.09,"i":"t7"},
      {"p":0.02375,"f":1.0014,"e":0.0024,"r":0.14,"i":"t1"},
      {"p":0.02425,"f":0.9970,"e":0.0023,"r":-0.30,"i":"t2"},
      {"p":0.02475,"f":0.9996,"e":0.0026,"r":-0.04,"i":"t3"},
      {"p":0.02525,"f":1.0024,"e":0.0025,"r":0.24,"i":"t4"},
      {"p":0.02575,"f":0.9986,"e":0.0024,"r":-0.14,"i":"t5"},
      {"p":0.02625,"f":0.9962,"e":0.0031,"r":-0.38,"i":"t6"},
      {"p":0.02675,"f":1.0025,"e":0.0024,"r":0.25,"i":"t7"},
      {"p":0.02725,"f":0.9972,"e":0.0024,"r":-0.28,"i":"t1"},
      {"p":0.02775,"f":1.0019,"e":0.0023,"r":0.19,"i":"t2"},
      {"p":0.02825,"f":1.0032,"e":0.0026,"r":0.32,"i":"t3"},
      {"p":0.02875,"f":0.9995,"e":0.0025,"r":-0.05,"i":"t4"},
      {"p":0.02925,"f":1.0036,"e":0.0024,"r":0.36,"i":"t5"},
      {"p":0.02975,"f":1.0011,"e":0.0031,"r":0.11,"i":"t6"},
      {"p":0.03025,"f":0.9972,"e":0.0024,"r":-0.28,"i":"t7"},
      {"p":0.03075,"f":1.0007,"e":0.0024,"r":0.07,"i":"t1"},
      {"p":0.03125,"f":1.0002,"e":0.0023,"r":0.02,"i":"t2"},
      {"p":0.03175,"f":0.9979,"e":0.0026,"r":-0.21,"i":"t3"},
      {"p":0.03225,"f":1.0035,"e":0.0025,"r":0.35,"i":"t4"},
      {"p":0.03275,"f":0.9980,"e":0.0024,"r":-0.20,"i":"t5"},
      {"p":0.03325,"f":0.9951,"e":0.0031,"r":-0.49,"i":"t6"},
      {"p":0.03375,"f":1.0012,"e":0.0024,"r":0.12,"i":"t7"},
      {"p":0.03425,"f":0.9983,"e":0.0024,"r":-0.17,"i":"t1"},
      {"p":0.03475,"f":1.0027,"e":0.0023,"r":0.27,"i":"t2"},
      {"p":0.03525,"f":1.0009,"e":0.0026,"r":0.09,"i":"t3"},
      {"p":0.03575,"f":0.9974,"e":0.0025,"r":-0.26,"i":"t4"},
      {"p":0.03625,"f":1.0009,"e":0.0024,"r":0.09,"i":"t5"},
      {"p":0.03675,"f":1.0027,"e":0.0031,"r":0.27,"i":"t6"},
      {"p":0.03725,"f":0.9979,"e":0.0024,"r":-0.21,"i":"t7"},
      {"p":0.03775,"f":1.0031,"e":0.0024,"r":0.31,"i":"t1"},
      {"p":0.03825,"f":0.9985,"e":0.0023,"r":-0.15,"i":"t2"},
      {"p":0.03875,"f":0.9970,"e":0.0026,"r":-0.30,"i":"t3"},
      {"p":0.03925,"f":1.0010,"e":0.0025,"r":0.10,"i":"t4"},
      {"p":0.03975,"f":0.9973,"e":0.0024,"r":-0.27,"i":"t5"},
      {"p":0.04025,"f":0.9986,"e":0.0031,"r":-0.14,"i":"t6"},
      {"p":0.04075,"f":1.0036,"e":0.0024,"r":0.36,"i":"t7"},
      {"p":0.04125,"f":0.9991,"e":0.0024,"r":-0.09,"i":"t1"},
      {"p":0.04175,"f":1.0023,"e":0.0023,"r":0.23,"i":"t2"},
      {"p":0.04225,"f":1.0015,"e":0.0026,"r":0.15,"i":"t3"},
      {"p":0.04275,"f":0.9983,"e":0.0025,"r":-0.17,"i":"t4"},
      {"p":0.04325,"f":1.0028,"e":0.0024,"r":0.28,"i":"t5"},
      {"p":0.04375,"f":1.0058,"e":0.0031,"r":0.58,"i":"t6"},
      {"p":0.04425,"f":0.9996,"e":0.0024,"r":-0.04,"i":"t7"},
      {"p":0.04475,"f":1.0019,"e":0.0024,"r":0.19,"i":"t1"},
      {"p":0.04525,"f":0.9963,"e":0.0023,"r":-0.37,"i":"t2"},
      {"p":0.04575,"f":0.9988,"e":0.0026,"r":-0.12,"i":"t3"},
      {"p":0.04625,"f":1.0029,"e":0.0025,"r":0.29,"i":"t4"},
      {"p":0.04675,"f":0.9989,"e":0.0024,"r":-0.11,"i":"t5"},
      {"p":0.04725,"f":0.9974,"e":0.0031,"r":-0.26,"i":"t6"},
      {"p":0.04775,"f":1.0018,"e":0.0024,"r":0.18,"i":"t7"},
      {"p":0.04825,"f":0.9964,"e":0.0024,"r":-0.36,"i":"t1"},
      {"p":0.04875,"f":1.0013,"e":0.0023,"r":0.13,"i":"t2"},
      {"p":0.04925,"f":1.0023,"e":0.0026,"r":0.23,"i":"t3"},
      {"p":0.04975,"f":0.9991,"e":0.0025,"r":-0.09,"i":"t4"},
      {"p":0.05025,"f":1.0017,"e":0.0024,"r":0.17,"i":"t5"},
      {"p":0.05075,"f":1.0033,"e":0.0031,"r":0.33,"i":"t6"},
      {"p":0.05125,"f":0.9965,"e":0.0024,"r":-0.35,"i":"t7"},
      {"p":0.05175,"f":1.0026,"e":0.0024,"r":0.26,"i":"t1"},
      {"p":0.05225,"f":0.9994,"e":0.0023,"r":-0.06,"i":"t2"},
      {"p":0.05275,"f":0.9982,"e":0.0026,"r":-0.18,"i":"t3"},
      {"p":0.05325,"f":1.0021,"e":0.0025,"r":0.21,"i":"t4"},
      {"p":0.05375,"f":0.9963,"e":0.0024,"r":-0.37,"i":"t5"},
      {"p":0.05425,"f":0.9991,"e":0.0031,"r":-0.09,"i":"t6"},
      {"p":0.05475,"f":1.0010,"e":0.0024,"r":0.10,"i":"t7"},
      {"p":0.05525,"f":0.9986,"e":0.0024,"r":-0.14,"i":"t1"},
      {"p":0.05575,"f":1.0030,"e":0.0023,"r":0.30,"i":"t2"},
      {"p":0.05625,"f":1.0005,"e":0.0026,"r":0.05,"i":"t3"},
      {"p":0.05675,"f":0.9967,"e":0.0025,"r":-0.33,"i":"t4"},
      {"p":0.05725,"f":1.0013,"e":0.0024,"r":0.13,"i":"t5"},
      {"p":0.05775,"f":1.0020,"e":0.0031,"r":0.20,"i":"t6"},
      {"p":0.05825,"f":0.9988,"e":0.0024,"r":-0.12,"i":"t7"},
      {"p":0.05875,"f":1.0024,"e":0.0024,"r":0.24,"i":"t1"},
      {"p":0.05925,"f":0.9976,"e":0.0023,"r":-0.24,"i":"t2"},
      {"p":0.05975,"f":1.0034,"e":0.0026,"r":0.34,"i":"t3"},
      {"p":0.06025,"f":1.0014,"e":0.0025,"r":0.14,"i":"t4"},
      {"p":0.06075,"f":0.9981,"e":0.0024,"r":-0.19,"i":"t5"},
      {"p":0.06125,"f":0.9969,"e":0.0031,"r":-0.31,"i":"t6"},
      {"p":0.06175,"f":1.0027,"e":0.0024,"r":0.27,"i":"t7"},
      {"p":0.06225,"f":0.9998,"e":0.0024,"r":-0.02,"i":"t1"},
      {"p":0.06275,"f":1.0016,"e":0.0023,"r":0.16,"i":"t2"},
      {"p":-0.0225,"f":1.0062,"e":0.0055,"r":0.62,"i":"a"},
      {"p":-0.0215,"f":0.9962,"e":0.0055,"r":-0.38,"i":"a"},
      {"p":-0.0205,"f":1.0012,"e":0.0055,"r":0.12,"i":"a"},
      {"p":-0.0195,"f":0.9901,"e":0.0055,"r":-0.99,"i":"a"},
      {"p":-0.0185,"f":1.0045,"e":0.0055,"r":0.45,"i":"a"},
      {"p":-0.0175,"f":0.9974,"e":0.0055,"r":-0.21,"i":"a"},
      {"p":-0.0165,"f":1.0049,"e":0.0055,"r":0.71,"i":"a"},
      {"p":-0.0155,"f":0.9902,"e":0.0055,"r":-0.55,"i":"a"},
      {"p":-0.0145,"f":0.9960,"e":0.0055,"r":0.18,"i":"a"},
      {"p":-0.0135,"f":0.9971,"e":0.0055,"r":0.33,"i":"a"},
      {"p":-0.0125,"f":0.9863,"e":0.0055,"r":-0.72,"i":"a"},
      {"p":-0.0115,"f":0.9937,"e":0.0055,"r":0.05,"i":"a"},
      {"p":-0.0105,"f":1.0022,"e":0.0055,"r":0.92,"i":"a"},
      {"p":-0.0095,"f":0.9910,"e":0.0055,"r":-0.18,"i":"a"},
      {"p":-0.0085,"f":0.9865,"e":0.0055,"r":-0.61,"i":"a"},
      {"p":-0.0075,"f":0.9952,"e":0.0055,"r":0.27,"i":"a"},
      {"p":-0.0065,"f":0.9828,"e":0.0055,"r":-0.95,"i":"a"},
      {"p":-0.0055,"f":0.9970,"e":0.0055,"r":0.48,"i":"a"},
      {"p":-0.0045,"f":0.9929,"e":0.0055,"r":0.08,"i":"a"},
      {"p":-0.0035,"f":0.9888,"e":0.0055,"r":-0.33,"i":"a"},
      {"p":-0.0025,"f":0.9987,"e":0.0055,"r":0.67,"i":"a"},
      {"p":-0.0015,"f":0.9912,"e":0.0055,"r":-0.08,"i":"a"},
      {"p":-0.0005,"f":1.0014,"e":0.0055,"r":0.94,"i":"a"},
      {"p":0.0005,"f":0.9876,"e":0.0055,"r":-0.44,"i":"a"},
      {"p":0.0015,"f":0.9942,"e":0.0055,"r":0.22,"i":"a"},
      {"p":0.0025,"f":1.0006,"e":0.0055,"r":0.86,"i":"a"},
      {"p":0.0035,"f":0.9893,"e":0.0055,"r":-0.27,"i":"a"},
      {"p":0.0045,"f":0.9863,"e":0.0055,"r":-0.58,"i":"a"},
      {"p":0.0055,"f":0.9961,"e":0.0055,"r":0.39,"i":"a"},
      {"p":0.0065,"f":0.9934,"e":0.0055,"r":0.11,"i":"a"},
      {"p":0.0075,"f":0.9855,"e":0.0055,"r":-0.69,"i":"a"},
      {"p":0.0085,"f":0.9978,"e":0.0055,"r":0.52,"i":"a"},
      {"p":0.0095,"f":0.9914,"e":0.0055,"r":-0.13,"i":"a"},
      {"p":0.0105,"f":0.9954,"e":0.0055,"r":0.25,"i":"a"},
      {"p":0.0115,"f":0.9847,"e":0.0055,"r":-0.85,"i":"a"},
      {"p":0.0125,"f":1.0004,"e":0.0055,"r":0.70,"i":"a"},
      {"p":0.0135,"f":0.9940,"e":0.0055,"r":0.03,"i":"a"},
      {"p":0.0145,"f":0.9905,"e":0.0055,"r":-0.36,"i":"a"},
      {"p":0.0155,"f":1.0047,"e":0.0055,"r":0.89,"i":"a"},
      {"p":0.0165,"f":1.0024,"e":0.0055,"r":0.44,"i":"a"},
      {"p":0.0175,"f":0.9976,"e":0.0055,"r":-0.21,"i":"a"}
    ],
    "bins": [
      {"p":-0.0608,"f":1.0003,"e":0.0006,"i":"t1"},{"p":-0.0608,"f":1.0005,"e":0.0006,"i":"t2"},{"p":-0.0608,"f":0.99915,"e":0.0006,"i":"t3"},{"p":-0.0608,"f":1.00105,"e":0.0006,"i":"t4"},{"p":-0.0608,"f":1.00035,"e":0.0006,"i":"t5"},{"p":-0.0608,"f":0.9980,"e":0.0007,"i":"t6"},{"p":-0.0608,"f":1.0008,"e":0.0006,"i":"t7"},
      {"p":-0.0560,"f":0.99929,"e":0.0006,"i":"t1"},{"p":-0.0560,"f":0.9997,"e":0.0006,"i":"t2"},{"p":-0.0560,"f":0.9989,"e":0.0006,"i":"t3"},{"p":-0.0560,"f":1.0003,"e":0.0006,"i":"t4"},{"p":-0.0560,"f":0.99981,"e":0.0006,"i":"t5"},{"p":-0.0560,"f":0.9973,"e":0.0007,"i":"t6"},{"p":-0.0560,"f":1.00057,"e":0.0006,"i":"t7"},
      {"p":-0.0511,"f":1.0007,"e":0.0006,"i":"t1"},{"p":-0.0511,"f":0.99904,"e":0.0006,"i":"t2"},{"p":-0.0511,"f":0.9999,"e":0.0006,"i":"t3"},{"p":-0.0511,"f":1.00015,"e":0.0006,"i":"t4"},{"p":-0.0511,"f":0.9998,"e":0.0006,"i":"t5"},{"p":-0.0511,"f":0.99871,"e":0.0007,"i":"t6"},{"p":-0.0511,"f":1.00127,"e":0.0006,"i":"t7"},
      {"p":-0.0463,"f":0.99907,"e":0.0006,"i":"t1"},{"p":-0.0463,"f":0.99948,"e":0.0006,"i":"t2"},{"p":-0.0463,"f":0.9997,"e":0.0006,"i":"t3"},{"p":-0.0463,"f":0.99973,"e":0.0006,"i":"t4"},{"p":-0.0463,"f":0.99964,"e":0.0006,"i":"t5"},{"p":-0.0463,"f":0.99732,"e":0.0007,"i":"t6"},{"p":-0.0463,"f":1.00018,"e":0.0006,"i":"t7"},
      {"p":-0.0414,"f":0.99937,"e":0.0006,"i":"t1"},{"p":-0.0414,"f":1.00045,"e":0.0006,"i":"t2"},{"p":-0.0414,"f":1.00098,"e":0.0007,"i":"t3"},{"p":-0.0414,"f":1.0001,"e":0.0006,"i":"t4"},{"p":-0.0414,"f":0.99987,"e":0.0006,"i":"t5"},{"p":-0.0414,"f":0.99879,"e":0.0007,"i":"t6"},{"p":-0.0414,"f":0.99998,"e":0.0006,"i":"t7"},
      {"p":-0.0366,"f":0.99998,"e":0.0006,"i":"t1"},{"p":-0.0366,"f":1.00062,"e":0.0006,"i":"t2"},{"p":-0.0366,"f":1.00032,"e":0.0006,"i":"t3"},{"p":-0.0366,"f":0.99987,"e":0.0006,"i":"t4"},{"p":-0.0366,"f":0.99901,"e":0.0006,"i":"t5"},{"p":-0.0366,"f":0.9994,"e":0.0007,"i":"t6"},{"p":-0.0366,"f":1.00079,"e":0.0006,"i":"t7"},
      {"p":-0.0318,"f":0.99921,"e":0.0006,"i":"t1"},{"p":-0.0318,"f":0.99998,"e":0.0006,"i":"t2"},{"p":-0.0318,"f":1.0001,"e":0.0006,"i":"t3"},{"p":-0.0318,"f":0.99957,"e":0.0006,"i":"t4"},{"p":-0.0318,"f":1.00048,"e":0.0006,"i":"t5"},{"p":-0.0318,"f":0.99824,"e":0.0007,"i":"t6"},{"p":-0.0318,"f":1.00025,"e":0.0006,"i":"t7"},
      {"p":-0.0269,"f":0.99965,"e":0.0006,"i":"t1"},{"p":-0.0269,"f":1.00043,"e":0.0006,"i":"t2"},{"p":-0.0269,"f":1.00081,"e":0.0006,"i":"t3"},{"p":-0.0269,"f":1.0001,"e":0.0006,"i":"t4"},{"p":-0.0269,"f":0.99971,"e":0.0006,"i":"t5"},{"p":-0.0269,"f":0.99882,"e":0.0007,"i":"t6"},{"p":-0.0269,"f":0.99948,"e":0.0006,"i":"t7"},
      {"p":-0.0221,"f":1.0003,"e":0.0006,"i":"t1"},{"p":-0.0221,"f":0.99995,"e":0.0006,"i":"t2"},{"p":-0.0221,"f":1.00091,"e":0.0006,"i":"t3"},{"p":-0.0221,"f":1.00038,"e":0.0006,"i":"t4"},{"p":-0.0221,"f":1.00021,"e":0.0006,"i":"t5"},{"p":-0.0221,"f":0.99908,"e":0.0007,"i":"t6"},{"p":-0.0221,"f":0.99978,"e":0.0006,"i":"t7"},
      {"p":-0.0172,"f":0.99929,"e":0.0006,"i":"t1"},{"p":-0.0172,"f":0.99856,"e":0.0006,"i":"t2"},{"p":-0.0172,"f":1.00043,"e":0.0006,"i":"t3"},{"p":-0.0172,"f":1.00016,"e":0.0006,"i":"t4"},{"p":-0.0172,"f":0.99808,"e":0.0006,"i":"t5"},{"p":-0.0172,"f":0.99862,"e":0.0007,"i":"t6"},{"p":-0.0172,"f":0.99882,"e":0.0006,"i":"t7"},
      {"p":-0.0124,"f":0.99433,"e":0.0006,"i":"t1"},{"p":-0.0124,"f":0.99351,"e":0.0006,"i":"t2"},{"p":-0.0124,"f":0.99381,"e":0.0006,"i":"t3"},{"p":-0.0124,"f":0.99273,"e":0.0006,"i":"t4"},{"p":-0.0124,"f":0.99403,"e":0.0006,"i":"t5"},{"p":-0.0124,"f":0.99412,"e":0.0007,"i":"t6"},{"p":-0.0124,"f":0.99481,"e":0.0006,"i":"t7"},
      {"p":-0.0076,"f":0.99225,"e":0.0006,"i":"t1"},{"p":-0.0076,"f":0.9925,"e":0.0006,"i":"t2"},{"p":-0.0076,"f":0.99283,"e":0.0006,"i":"t3"},{"p":-0.0076,"f":0.9929,"e":0.0006,"i":"t4"},{"p":-0.0076,"f":0.9921,"e":0.0006,"i":"t5"},{"p":-0.0076,"f":0.99191,"e":0.0007,"i":"t6"},{"p":-0.0076,"f":0.99262,"e":0.0006,"i":"t7"},
      {"p":-0.0027,"f":0.9922,"e":0.0006,"i":"t1"},{"p":-0.0027,"f":0.99124,"e":0.0006,"i":"t2"},{"p":-0.0027,"f":0.99331,"e":0.0006,"i":"t3"},{"p":-0.0027,"f":0.99354,"e":0.0006,"i":"t4"},{"p":-0.0027,"f":0.99294,"e":0.0006,"i":"t5"},{"p":-0.0027,"f":0.99279,"e":0.0007,"i":"t6"},{"p":-0.0027,"f":0.99253,"e":0.0006,"i":"t7"},
      {"p":0.0021,"f":0.9922,"e":0.0006,"i":"t1"},{"p":0.0021,"f":0.9919,"e":0.0006,"i":"t2"},{"p":0.0021,"f":0.9925,"e":0.0006,"i":"t3"},{"p":0.0021,"f":0.99172,"e":0.0006,"i":"t4"},{"p":0.0021,"f":0.99247,"e":0.0006,"i":"t5"},{"p":0.0021,"f":0.9919,"e":0.0007,"i":"t6"},{"p":0.0021,"f":0.9923,"e":0.0006,"i":"t7"},
      {"p":0.0070,"f":0.9915,"e":0.0006,"i":"t1"},{"p":0.0070,"f":0.9930,"e":0.0006,"i":"t2"},{"p":0.0070,"f":0.9926,"e":0.0006,"i":"t3"},{"p":0.0070,"f":0.99329,"e":0.0006,"i":"t4"},{"p":0.0070,"f":0.99262,"e":0.0006,"i":"t5"},{"p":0.0070,"f":0.9918,"e":0.0007,"i":"t6"},{"p":0.0070,"f":0.99133,"e":0.0006,"i":"t7"},
      {"p":0.0118,"f":0.9935,"e":0.0006,"i":"t1"},{"p":0.0118,"f":0.9937,"e":0.0006,"i":"t2"},{"p":0.0118,"f":0.9938,"e":0.0006,"i":"t3"},{"p":0.0118,"f":0.99285,"e":0.0006,"i":"t4"},{"p":0.0118,"f":0.99357,"e":0.0006,"i":"t5"},{"p":0.0118,"f":0.99507,"e":0.0007,"i":"t6"},{"p":0.0118,"f":0.99329,"e":0.0006,"i":"t7"},
      {"p":0.0166,"f":0.99821,"e":0.0006,"i":"t1"},{"p":0.0166,"f":0.99851,"e":0.0006,"i":"t2"},{"p":0.0166,"f":0.9990,"e":0.0006,"i":"t3"},{"p":0.0166,"f":0.9990,"e":0.0006,"i":"t4"},{"p":0.0166,"f":0.9988,"e":0.0006,"i":"t5"},{"p":0.0166,"f":1.00087,"e":0.0007,"i":"t6"},{"p":0.0166,"f":0.99929,"e":0.0006,"i":"t7"},
      {"p":0.0215,"f":1.0005,"e":0.0006,"i":"t1"},{"p":0.0215,"f":1.0006,"e":0.0006,"i":"t2"},{"p":0.0215,"f":1.00053,"e":0.0006,"i":"t3"},{"p":0.0215,"f":0.9998,"e":0.0006,"i":"t4"},{"p":0.0215,"f":0.99989,"e":0.0006,"i":"t5"},{"p":0.0215,"f":1.00107,"e":0.0007,"i":"t6"},{"p":0.0215,"f":0.99966,"e":0.0006,"i":"t7"},
      {"p":0.0263,"f":1.00139,"e":0.0006,"i":"t1"},{"p":0.0263,"f":0.9998,"e":0.0006,"i":"t2"},{"p":0.0263,"f":0.99908,"e":0.0006,"i":"t3"},{"p":0.0263,"f":0.99829,"e":0.0006,"i":"t4"},{"p":0.0263,"f":0.99865,"e":0.0006,"i":"t5"},{"p":0.0263,"f":1.00197,"e":0.0007,"i":"t6"},{"p":0.0263,"f":1.00024,"e":0.0006,"i":"t7"},
      {"p":0.0312,"f":0.99957,"e":0.0006,"i":"t1"},{"p":0.0312,"f":0.9999,"e":0.0006,"i":"t2"},{"p":0.0312,"f":0.99885,"e":0.0006,"i":"t3"},{"p":0.0312,"f":0.9993,"e":0.0006,"i":"t4"},{"p":0.0312,"f":1.00063,"e":0.0007,"i":"t5"},{"p":0.0312,"f":1.00212,"e":0.0007,"i":"t6"},{"p":0.0312,"f":0.99934,"e":0.0006,"i":"t7"},
      {"p":0.0360,"f":1.00034,"e":0.0006,"i":"t1"},{"p":0.0360,"f":0.99912,"e":0.0006,"i":"t2"},{"p":0.0360,"f":0.9994,"e":0.0006,"i":"t3"},{"p":0.0360,"f":0.99942,"e":0.0006,"i":"t4"},{"p":0.0360,"f":1.00066,"e":0.0006,"i":"t5"},{"p":0.0360,"f":1.00145,"e":0.0007,"i":"t6"},{"p":0.0360,"f":0.9994,"e":0.0006,"i":"t7"},
      {"p":0.0408,"f":1.0000,"e":0.0006,"i":"t1"},{"p":0.0408,"f":1.00066,"e":0.0006,"i":"t2"},{"p":0.0408,"f":1.00092,"e":0.0006,"i":"t3"},{"p":0.0408,"f":1.00172,"e":0.0006,"i":"t4"},{"p":0.0408,"f":0.99929,"e":0.0006,"i":"t5"},{"p":0.0408,"f":1.0025,"e":0.0007,"i":"t6"},{"p":0.0408,"f":1.00001,"e":0.0006,"i":"t7"},
      {"p":0.0457,"f":1.0012,"e":0.0006,"i":"t1"},{"p":0.0457,"f":0.99964,"e":0.0006,"i":"t2"},{"p":0.0457,"f":0.99983,"e":0.0006,"i":"t3"},{"p":0.0457,"f":1.00105,"e":0.0006,"i":"t4"},{"p":0.0457,"f":1.00042,"e":0.0006,"i":"t5"},{"p":0.0457,"f":1.00134,"e":0.0007,"i":"t6"},{"p":0.0457,"f":1.00062,"e":0.0006,"i":"t7"},
      {"p":0.0505,"f":0.9999,"e":0.0006,"i":"t1"},{"p":0.0505,"f":1.0002,"e":0.0006,"i":"t2"},{"p":0.0505,"f":0.99928,"e":0.0006,"i":"t3"},{"p":0.0505,"f":1.0008,"e":0.0006,"i":"t4"},{"p":0.0505,"f":1.0008,"e":0.0006,"i":"t5"},{"p":0.0505,"f":1.00012,"e":0.0007,"i":"t6"},{"p":0.0505,"f":0.99969,"e":0.0006,"i":"t7"},
      {"p":0.0554,"f":1.0002,"e":0.0006,"i":"t1"},{"p":0.0554,"f":1.00041,"e":0.0006,"i":"t2"},{"p":0.0554,"f":0.9998,"e":0.0006,"i":"t3"},{"p":0.0554,"f":0.99978,"e":0.0006,"i":"t4"},{"p":0.0554,"f":1.00012,"e":0.0006,"i":"t5"},{"p":0.0554,"f":1.00064,"e":0.0007,"i":"t6"},{"p":0.0554,"f":0.99947,"e":0.0006,"i":"t7"},
      {"p":0.0602,"f":1.00181,"e":0.0006,"i":"t1"},{"p":0.0602,"f":0.9999,"e":0.0006,"i":"t2"},{"p":0.0602,"f":0.99969,"e":0.0006,"i":"t3"},{"p":0.0602,"f":1.0001,"e":0.0006,"i":"t4"},{"p":0.0602,"f":1.00043,"e":0.0006,"i":"t5"},{"p":0.0602,"f":1.0003,"e":0.0007,"i":"t6"},{"p":0.0602,"f":1.00028,"e":0.0006,"i":"t7"},
      {"p":-0.0208,"f":1.00232,"e":0.0019,"i":"a"},
      {"p":-0.0159,"f":0.99395,"e":0.0020,"i":"a"},
      {"p":-0.0110,"f":0.99118,"e":0.0013,"i":"a"},
      {"p":-0.0061,"f":0.99117,"e":0.0014,"i":"a"},
      {"p":-0.0013,"f":0.99216,"e":0.0013,"i":"a"},
      {"p":0.0035,"f":0.99372,"e":0.0014,"i":"a"},
      {"p":0.0083,"f":0.99334,"e":0.0011,"i":"a"},
      {"p":0.0132,"f":0.99308,"e":0.0011,"i":"a"},
      {"p":0.0181,"f":1.00088,"e":0.0010,"i":"a"}
    ],
    "binned": [
      {"p":-0.0584,"f":0.99974,"r":-0.02,"i":"z"},
      {"p":-0.0487,"f":0.99968,"r":-0.03,"i":"z"},
      {"p":-0.0390,"f":0.99994,"r":0.00,"i":"z"},
      {"p":-0.0294,"f":0.99979,"r":-0.02,"i":"z"},
      {"p":-0.0196,"f":0.99969,"r":0.01,"i":"z"},
      {"p":-0.0100,"f":0.99284,"r":-0.03,"i":"z"},
      {"p":-0.0004,"f":0.99243,"r":0.03,"i":"z"},
      {"p":0.0094,"f":0.99294,"r":0.00,"i":"z"},
      {"p":0.0189,"f":0.99953,"r":0.02,"i":"z"},
      {"p":0.0287,"f":0.99991,"r":0.00,"i":"z"},
      {"p":0.0383,"f":1.00040,"r":0.04,"i":"z"},
      {"p":0.0480,"f":1.00027,"r":0.03,"i":"z"},
      {"p":0.0576,"f":1.00029,"r":0.03,"i":"z"}
    ],
    "model": [
      {"p":-0.0631,"f":1.0},{"p":-0.0180,"f":1.0},{"p":-0.0177,"f":0.99975},{"p":-0.0173,"f":0.99925},
      {"p":-0.0169,"f":0.99850},{"p":-0.0165,"f":0.99775},{"p":-0.0161,"f":0.99700},{"p":-0.0157,"f":0.99615},
      {"p":-0.0154,"f":0.99540},{"p":-0.0151,"f":0.99470},{"p":-0.0148,"f":0.99435},{"p":-0.0144,"f":0.99410},
      {"p":-0.0136,"f":0.99378},{"p":-0.0128,"f":0.99352},{"p":-0.0116,"f":0.99322},{"p":-0.0100,"f":0.99288},
      {"p":-0.0076,"f":0.99247},{"p":-0.0050,"f":0.99216},{"p":-0.0025,"f":0.99200},{"p":0.0,"f":0.99195},
      {"p":0.0025,"f":0.99198},{"p":0.0050,"f":0.99212},{"p":0.0076,"f":0.99242},{"p":0.0100,"f":0.99282},
      {"p":0.0116,"f":0.99318},{"p":0.0128,"f":0.99348},{"p":0.0136,"f":0.99372},{"p":0.0144,"f":0.99405},
      {"p":0.0148,"f":0.99435},{"p":0.0151,"f":0.99480},{"p":0.0154,"f":0.99550},{"p":0.0157,"f":0.99630},
      {"p":0.0161,"f":0.99712},{"p":0.0165,"f":0.99795},{"p":0.0169,"f":0.99886},{"p":0.0173,"f":0.99945},
      {"p":0.0177,"f":0.99990},{"p":0.0180,"f":1.0},{"p":0.0628,"f":1.0}
    ]
  },
  "resolve": {"scale": {"x": "independent", "y": "independent", "fill": "independent", "stroke": "independent", "shape": "independent", "color": "independent"}},
  "vconcat": [
    {
      "width": 3958,
      "height": 2241,
      "layer": [
        {
          "data": {"name": "faint"},
          "mark": {"type": "errorbar", "ticks": false, "clip": true, "rule": {"strokeWidth": 6, "opacity": 0.12}},
          "encoding": {
            "x": {"field": "p", "type": "quantitative", "scale": {"domain": [-0.0631, 0.0628], "nice": false, "zero": false}, "axis": null},
            "y": {"field": "f", "type": "quantitative", "title": "Relative Flux", "scale": {"domain": [0.98267, 1.01048], "nice": false, "zero": false},
                  "axis": {"title": "Relative Flux", "values": [0.985, 0.99, 0.995, 1.0, 1.005, 1.01], "format": ".3f"}},
            "yError": {"field": "e"},
            "color": {"field": "i", "type": "nominal", "legend": null,
                      "scale": {"domain": ["a","t1","t2","t3","t4","t5","t6","t7"], "range": ["#000000","#0000ff","#008000","#ffa500","#800080","#808080","#ff00ff","#00ffff"]}}
          }
        },
        {
          "data": {"name": "faint"},
          "mark": {"type": "point", "filled": true, "size": 700, "fillOpacity": 0.1, "strokeOpacity": 0.12, "strokeWidth": 3, "clip": true},
          "encoding": {
            "x": {"field": "p", "type": "quantitative"},
            "y": {"field": "f", "type": "quantitative", "title": "Relative Flux"},
            "fill": {"field": "i", "type": "nominal",
                     "scale": {"domain": ["m","a","t1","t2","t3","t4","t5","t6","t7","z"], "range": ["#ff0000","#000000","#0000ff","#008000","#ffa500","#800080","#808080","#ff00ff","#00ffff","#ffffff"]}},
            "stroke": {"field": "i", "type": "nominal",
                       "scale": {"domain": ["m","a","t1","t2","t3","t4","t5","t6","t7","z"], "range": ["#ff0000","#000000","#0000ff","#008000","#ffa500","#800080","#808080","#ff00ff","#00ffff","#000000"]}},
            "shape": {"field": "i", "type": "nominal",
                      "scale": {"domain": ["m","a","t1","t2","t3","t4","t5","t6","t7","z"],
                                "range": ["M-3,-0.32L3,-0.32L3,0.32L-3,0.32Z",
                                          "M-1,0A1,1 0 1,1 1,0A1,1 0 1,1 -1,0ZM-0.2,-1.45L0.2,-1.45L0.2,1.45L-0.2,1.45Z",
                                          "M-1,-0.87L1,-0.87L0,0.87ZM-0.2,-1.45L0.2,-1.45L0.2,1.45L-0.2,1.45Z",
                                          "M0,-0.87L1,0.87L-1,0.87ZM-0.2,-1.45L0.2,-1.45L0.2,1.45L-0.2,1.45Z",
                                          "M-0.87,0L0.87,-1L0.87,1ZM-0.2,-1.45L0.2,-1.45L0.2,1.45L-0.2,1.45Z",
                                          "M0.87,0L-0.87,1L-0.87,-1ZM-0.2,-1.45L0.2,-1.45L0.2,1.45L-0.2,1.45Z",
                                          "M-0.85,-0.85L0.85,-0.85L0.85,0.85L-0.85,0.85ZM-0.2,-1.45L0.2,-1.45L0.2,1.45L-0.2,1.45Z",
                                          "M0,-1L0.2245,-0.309L0.951,-0.309L0.363,0.118L0.588,0.809L0,0.382L-0.588,0.809L-0.363,0.118L-0.951,-0.309L-0.2245,-0.309ZM-0.2,-1.45L0.2,-1.45L0.2,1.45L-0.2,1.45Z",
                                          "M0,-1L0.866,-0.5L0.866,0.5L0,1L-0.866,0.5L-0.866,-0.5ZM-0.2,-1.45L0.2,-1.45L0.2,1.45L-0.2,1.45Z",
                                          "circle"]}}
          }
        },
        {
          "data": {"name": "bins"},
          "mark": {"type": "errorbar", "ticks": false, "clip": true, "rule": {"strokeWidth": 6}},
          "encoding": {
            "x": {"field": "p", "type": "quantitative"},
            "y": {"field": "f", "type": "quantitative", "title": "Relative Flux"},
            "yError": {"field": "e"},
            "color": {"field": "i", "type": "nominal", "legend": null}
          }
        },
        {
          "data": {"name": "bins"},
          "mark": {"type": "point", "filled": true, "size": 1000, "fillOpacity": 1, "strokeWidth": 1, "clip": true},
          "encoding": {
            "x": {"field": "p", "type": "quantitative"},
            "y": {"field": "f", "type": "quantitative", "title": "Relative Flux"},
            "fill": {"field": "i", "type": "nominal",
                     "legend": {"title": null,
                                "labelExpr": "datum.value == 'm' ? ['Rₚ²/Rₛ² = 0.00691 ± 0.00012', 'Tmid = 2459879.83492 ± 0.00051 BJDTDB'] : datum.value == 'a' ? 'AAVSO: 0.57 %' : datum.value == 'z' ? 'Binned Data: 0.02 %' : datum.value == 't2' ? 'TESS: 0.21 %' : datum.value == 't6' ? 'TESS: 0.29 %' : (datum.value == 't3' || datum.value == 't4') ? 'TESS: 0.23 %' : 'TESS: 0.22 %'",
                                "encode": {
                                  "symbols": {"update": {
                                    "size": {"signal": "datum.value == 'z' ? 3800 : 1000"},
                                    "strokeWidth": {"signal": "datum.value == 'z' ? 5 : 1"}
                                  }},
                                  "labels": {"update": {"lineHeight": {"value": 60}}}
                                }}},
            "stroke": {"field": "i", "type": "nominal",
                     "legend": {"title": null,
                                "labelExpr": "datum.value == 'm' ? ['Rₚ²/Rₛ² = 0.00691 ± 0.00012', 'Tmid = 2459879.83492 ± 0.00051 BJDTDB'] : datum.value == 'a' ? 'AAVSO: 0.57 %' : datum.value == 'z' ? 'Binned Data: 0.02 %' : datum.value == 't2' ? 'TESS: 0.21 %' : datum.value == 't6' ? 'TESS: 0.29 %' : (datum.value == 't3' || datum.value == 't4') ? 'TESS: 0.23 %' : 'TESS: 0.22 %'",
                                "encode": {
                                  "symbols": {"update": {
                                    "size": {"signal": "datum.value == 'z' ? 3800 : 1000"},
                                    "strokeWidth": {"signal": "datum.value == 'z' ? 5 : 1"}
                                  }},
                                  "labels": {"update": {"lineHeight": {"value": 60}}}
                                }}},
            "shape": {"field": "i", "type": "nominal",
                     "legend": {"title": null,
                                "labelExpr": "datum.value == 'm' ? ['Rₚ²/Rₛ² = 0.00691 ± 0.00012', 'Tmid = 2459879.83492 ± 0.00051 BJDTDB'] : datum.value == 'a' ? 'AAVSO: 0.57 %' : datum.value == 'z' ? 'Binned Data: 0.02 %' : datum.value == 't2' ? 'TESS: 0.21 %' : datum.value == 't6' ? 'TESS: 0.29 %' : (datum.value == 't3' || datum.value == 't4') ? 'TESS: 0.23 %' : 'TESS: 0.22 %'",
                                "encode": {
                                  "symbols": {"update": {
                                    "size": {"signal": "datum.value == 'z' ? 3800 : 1000"},
                                    "strokeWidth": {"signal": "datum.value == 'z' ? 5 : 1"}
                                  }},
                                  "labels": {"update": {"lineHeight": {"value": 60}}}
                                }}}
          }
        },
        {
          "data": {"name": "binned"},
          "mark": {"type": "point", "filled": true, "size": 3800, "fillOpacity": 1, "strokeWidth": 5, "clip": true},
          "encoding": {
            "x": {"field": "p", "type": "quantitative"},
            "y": {"field": "f", "type": "quantitative", "title": "Relative Flux"},
            "fill": {"field": "i", "type": "nominal"},
            "stroke": {"field": "i", "type": "nominal"},
            "shape": {"field": "i", "type": "nominal"}
          }
        },
        {
          "data": {"name": "model"},
          "mark": {"type": "line", "color": "#ff0000", "strokeWidth": 11, "clip": true},
          "encoding": {
            "x": {"field": "p", "type": "quantitative"},
            "y": {"field": "f", "type": "quantitative", "title": "Relative Flux"}
          }
        }
      ]
    },
    {
      "width": 3958,
      "height": 747,
      "layer": [
        {
          "data": {"name": "faint"},
          "mark": {"type": "point", "filled": true, "size": 720, "fillOpacity": 0.3, "strokeOpacity": 0.4, "strokeWidth": 3, "clip": true},
          "encoding": {
            "x": {"field": "p", "type": "quantitative", "title": "Phase", "scale": {"domain": [-0.0631, 0.0628], "nice": false, "zero": false},
                  "axis": {"title": "Phase", "values": [-0.06, -0.04, -0.02, 0, 0.02, 0.04, 0.06], "format": ".2f"}},
            "y": {"field": "r", "type": "quantitative", "title": "Residuals [%]", "scale": {"domain": [-1.048, 1.048], "nice": false, "zero": false},
                  "axis": {"title": "Residuals [%]", "values": [-1, -0.5, 0, 0.5, 1], "format": ".1f"}},
            "fill": {"field": "i", "type": "nominal", "legend": null,
                     "scale": {"domain": ["m","a","t1","t2","t3","t4","t5","t6","t7","z"], "range": ["#ff0000","#000000","#0000ff","#008000","#ffa500","#800080","#808080","#ff00ff","#00ffff","#ffffff"]}},
            "stroke": {"field": "i", "type": "nominal", "legend": null,
                       "scale": {"domain": ["m","a","t1","t2","t3","t4","t5","t6","t7","z"], "range": ["#ff0000","#000000","#0000ff","#008000","#ffa500","#800080","#808080","#ff00ff","#00ffff","#000000"]}},
            "shape": {"field": "i", "type": "nominal", "legend": null,
                      "scale": {"domain": ["m","a","t1","t2","t3","t4","t5","t6","t7","z"],
                                "range": ["M-3,-0.32L3,-0.32L3,0.32L-3,0.32Z","circle","M-1,-0.87L1,-0.87L0,0.87Z","M0,-0.87L1,0.87L-1,0.87Z","M-0.87,0L0.87,-1L0.87,1Z","M0.87,0L-0.87,1L-0.87,-1Z","M-0.85,-0.85L0.85,-0.85L0.85,0.85L-0.85,0.85Z","M0,-1L0.2245,-0.309L0.951,-0.309L0.363,0.118L0.588,0.809L0,0.382L-0.588,0.809L-0.363,0.118L-0.951,-0.309L-0.2245,-0.309Z","M0,-1L0.866,-0.5L0.866,0.5L0,1L-0.866,0.5L-0.866,-0.5Z","circle"]}}
          }
        },
        {
          "data": {"name": "binned"},
          "mark": {"type": "point", "filled": true, "size": 3000, "fillOpacity": 1, "strokeWidth": 5, "clip": true},
          "encoding": {
            "x": {"field": "p", "type": "quantitative", "title": "Phase"},
            "y": {"field": "r", "type": "quantitative", "title": "Residuals [%]"},
            "fill": {"field": "i", "type": "nominal", "legend": null},
            "stroke": {"field": "i", "type": "nominal", "legend": null},
            "shape": {"field": "i", "type": "nominal", "legend": null}
          }
        }
      ]
    }
  ]
}
